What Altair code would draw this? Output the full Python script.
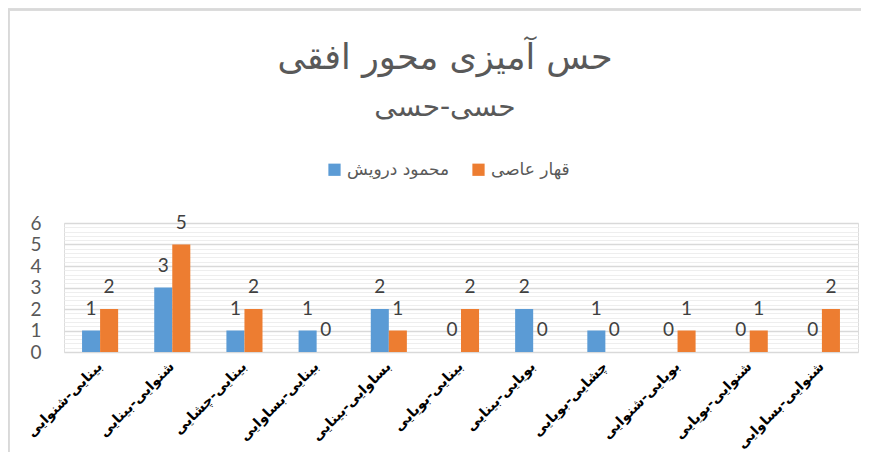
import altair as alt
import pandas as pd

categories = [
    "بینایی-شنوایی",
    "شنوایی-بینایی",
    "بینایی-چشایی",
    "بینایی-بساوایی",
    "بساوایی-بینایی",
    "بینایی-بویایی",
    "بویایی-بینایی",
    "چشایی-بویایی",
    "بویایی-شنوایی",
    "شنوایی-بویایی",
    "شنوایی-بساوایی",
]
series_names = ["محمود درویش", "قهار عاصی"]
darwish = [1, 3, 1, 1, 2, 0, 2, 1, 0, 0, 0]
asi = [2, 5, 2, 0, 1, 2, 0, 0, 1, 1, 2]
colors = ["#5B9BD5", "#ED7D31"]
y_ticks = [round(i * 0.2, 1) for i in range(31)]

rows = []
for c, a, b in zip(categories, darwish, asi):
    rows.append({"cat": c, "series": series_names[0], "value": a})
    rows.append({"cat": c, "series": series_names[1], "value": b})
df = pd.DataFrame(rows)

x_enc = alt.X(
    "cat:N",
    sort=categories,
    scale=alt.Scale(paddingInner=0.5, paddingOuter=0.25),
    axis=alt.Axis(
        title=None,
        labelAngle=-45,
        labelAlign="right",
        labelBaseline="middle",
        labelFont="DejaVu Sans",
        labelFontWeight="bold",
        labelFontSize=14,
        labelColor="#000000",
        labelPadding=12,
        labelLimit=0,
        ticks=False,
        domain=False,
        grid=False,
    ),
)
y_enc = alt.Y(
    "value:Q",
    scale=alt.Scale(domain=[0, 6], nice=False),
    axis=alt.Axis(
        title=None,
        values=y_ticks,
        labelExpr="datum.value % 1 === 0 ? format(datum.value, 'd') : ''",
        labelOverlap=False,
        labelFont="Lato",
        labelFontSize=19,
        labelColor="#595959",
        labelPadding=23,
        ticks=False,
        domain=False,
        grid=True,
        gridColor={"condition": {"test": "datum.value % 1 === 0", "value": "#d9d9d9"}, "value": "#eeeeee"},
        gridWidth={"condition": {"test": "datum.value % 1 === 0", "value": 1.6}, "value": 1},
    ),
)
xoff = alt.XOffset("series:N", sort=series_names, scale=alt.Scale(paddingInner=0, paddingOuter=0))

bars = alt.Chart(df).mark_bar().encode(
    x=x_enc,
    y=y_enc,
    xOffset=xoff,
    color=alt.Color(
        "series:N",
        sort=series_names,
        scale=alt.Scale(domain=series_names, range=colors),
        legend=alt.Legend(
            title=None,
            orient="none",
            direction="horizontal",
            legendX=262,
            legendY=-62,
            symbolType="square",
            symbolSize=150,
            symbolStrokeWidth=0,
            labelFont="DejaVu Sans",
            labelFontSize=17,
            labelColor="#595959",
            columnPadding=20,
            labelOffset=4,
        ),
    ),
)

labels = alt.Chart(df).mark_text(
    dy=-22, baseline="middle", font="Lato", fontSize=19, color="#404040"
).encode(x=x_enc, y=y_enc, xOffset=xoff, text="value:Q")

border_top = alt.Chart(df).mark_rule(color="#d9d9d9", strokeWidth=1.5).encode(
    x=alt.value(-56), x2=alt.value(820), y=alt.value(-213.5)
)
border_left = alt.Chart(df).mark_rule(color="#d9d9d9", strokeWidth=1.5).encode(
    x=alt.value(-55.5), y=alt.value(-214), y2=alt.value(250)
)

chart = (
    alt.layer(border_top, border_left, bars, labels)
    .properties(
        width=794,
        height=129,
        autosize=alt.AutoSizeParams(type="none"),
        padding={"left": 56, "top": 215, "right": 3, "bottom": 100},
        title=alt.TitleParams(
            text="حس آمیزی محور افقی",
            subtitle="حسی-حسی",
            font="DejaVu Sans",
            fontSize=35,
            fontWeight="normal",
            color="#595959",
            subtitleFont="DejaVu Sans",
            subtitleFontSize=28,
            subtitleColor="#595959",
            subtitlePadding=18,
            anchor="middle",
            frame="group",
            dx=-16,
            offset=-114,
        ),
    )
    .configure_view(strokeWidth=0, stroke="transparent")
    .configure_axis(domainColor="transparent")
    .configure(background="white")
)

chart.save("out.html", embed_options={"renderer": "svg", "actions": False})
